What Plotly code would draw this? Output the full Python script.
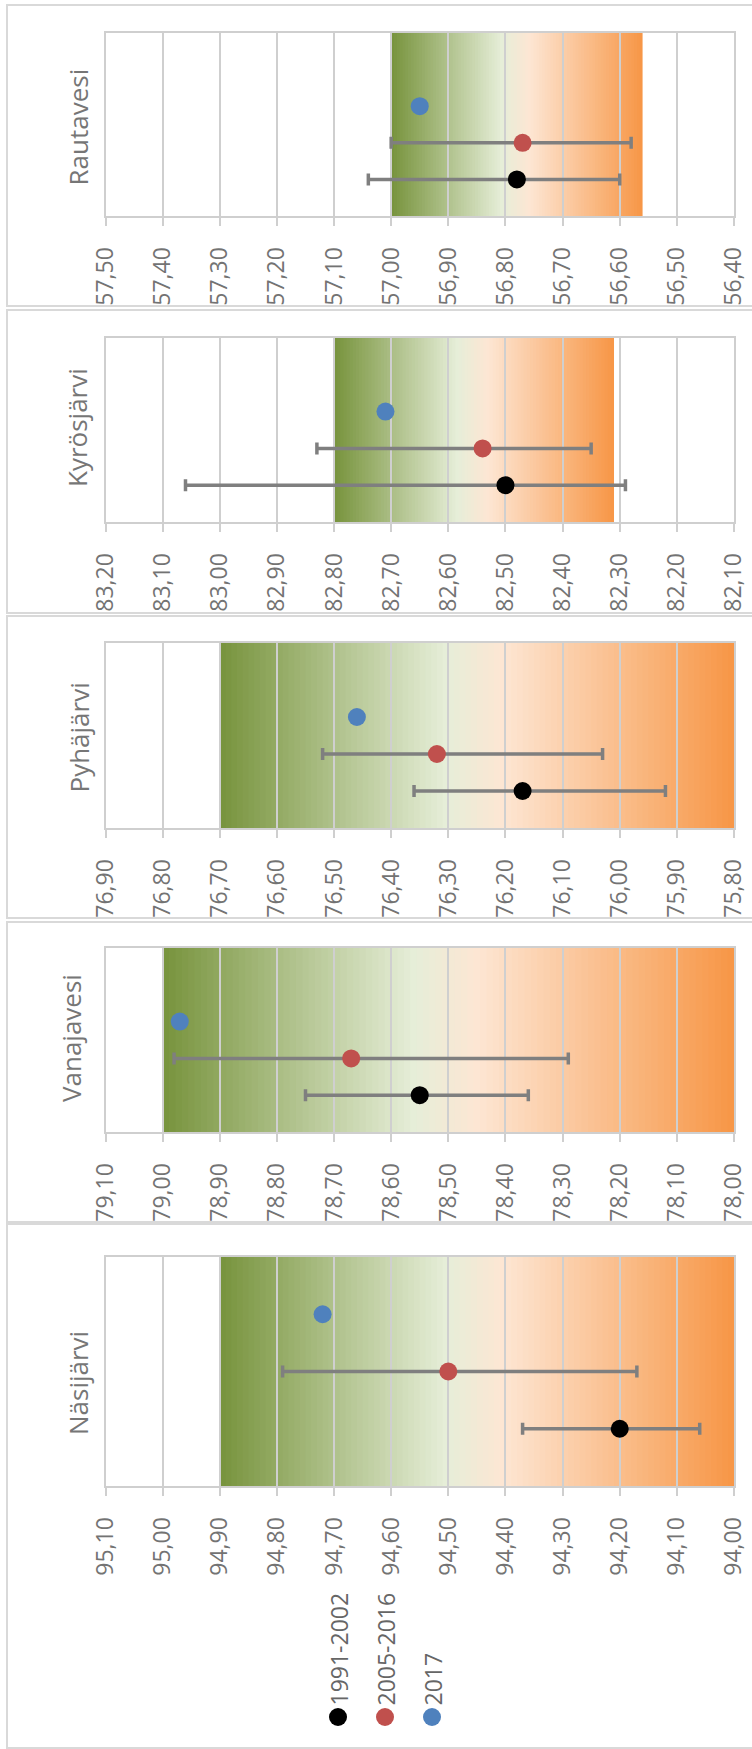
import plotly.graph_objects as go

# ---------------- data ----------------
lakes = ["Rautavesi", "Kyrösjärvi", "Pyhäjärvi", "Vanajavesi", "Näsijärvi"]
axis_max = [57.50, 83.20, 76.90, 79.10, 95.10]
axis_min = [56.40, 82.10, 75.80, 78.00, 94.00]
band_hi = [57.00, 82.80, 76.70, 79.00, 94.90]
band_lo = [56.56, 82.31, 75.80, 78.00, 94.00]

v_1991 = [56.78, 82.50, 76.17, 78.55, 94.20]
lo_1991 = [56.60, 82.29, 75.92, 78.36, 94.06]
hi_1991 = [57.04, 83.06, 76.36, 78.75, 94.37]

v_2005 = [56.77, 82.54, 76.32, 78.67, 94.50]
lo_2005 = [56.58, 82.35, 76.03, 78.29, 94.17]
hi_2005 = [57.00, 82.83, 76.52, 78.98, 94.79]

v_2017 = [56.95, 82.71, 76.46, 78.97, 94.72]

series_names = ["1991-2002", "2005-2016", "2017"]
series_colors = ["#000000", "#c0504d", "#4f81bd"]
series_rows = [1, 2, 3]
y_top = [5, 5, 5, 5, 4]

# ---------------- layout geometry (pixels) ----------------
W, H = 752, 1749
plot_top = [33, 338, 643, 948, 1257]
plot_bot = [216, 522, 828, 1132, 1486]
plot_left, plot_right = 105.5, 734
frame_top = [5, 310, 616, 922, 1224]
frame_bot = [306, 613, 918, 1222, 1748]
name_x = [78, 77, 78, 71, 78]
name_y = [127.5, 428, 737.5, 1038, 1383]

TICK_COL = "#737373"
GRID_COL = "#cfcfcf"
FONT = "Open Sans"

# gradient stops (fraction from band_hi side)
stops = [(0.0, (0x77, 0x93, 0x3C)), (0.44, (0xE6, 0xEE, 0xD8)),
         (0.55, (0xFD, 0xE6, 0xD3)), (1.0, (0xF7, 0x96, 0x46))]


def grad_color(t):
    for (t0, c0), (t1, c1) in zip(stops[:-1], stops[1:]):
        if t <= t1:
            f = (t - t0) / (t1 - t0) if t1 > t0 else 0
            return "rgb(%d,%d,%d)" % tuple(round(a + (b - a) * f) for a, b in zip(c0, c1))
    return "rgb(%d,%d,%d)" % stops[-1][1]


def px_y(p):
    return 1 - p / H


fig = go.Figure()
shapes = []
annotations = []
layout_axes = {}

for i, lake in enumerate(lakes):
    n = i + 1
    xa = "x" if n == 1 else f"x{n}"
    ya = "y" if n == 1 else f"y{n}"
    xkey = "xaxis" if n == 1 else f"xaxis{n}"
    ykey = "yaxis" if n == 1 else f"yaxis{n}"

    ticks = [round(axis_max[i] - 0.1 * k, 2) for k in range(int(round((axis_max[i] - axis_min[i]) / 0.1)) + 1)]
    layout_axes[xkey] = dict(
        domain=[plot_left / W, plot_right / W], anchor=ya,
        range=[axis_max[i], axis_min[i]],
        tickvals=ticks, tickformat=".2f", tickangle=-90,
        ticks="outside", ticklen=8, tickwidth=2, tickcolor=GRID_COL,
        ticklabelstandoff=12, automargin=False,
        tickfont=dict(family=FONT, size=23, color=TICK_COL),
        showgrid=True, gridcolor=GRID_COL, gridwidth=2,
        showline=True, linecolor=GRID_COL, linewidth=2, mirror=True,
        zeroline=False, fixedrange=True,
    )
    layout_axes[ykey] = dict(
        domain=[px_y(plot_bot[i]), px_y(plot_top[i])], anchor=xa,
        range=[0, y_top[i]], showticklabels=False, ticks="",
        showgrid=False, zeroline=False, automargin=False,
        showline=True, linecolor=GRID_COL, linewidth=2, mirror=True,
        fixedrange=True,
    )

    # gradient band drawn as thin rectangles below the grid
    nstep = 90
    span = band_hi[i] - band_lo[i]
    for k in range(nstep):
        t0 = k / nstep
        t1 = (k + 1) / nstep
        shapes.append(dict(
            type="rect", xref=xa, yref=f"{ya} domain", layer="below",
            x0=band_hi[i] - span * t0, x1=band_hi[i] - span * min(1.0, t1 + 0.004),
            y0=0, y1=1, line=dict(width=0),
            fillcolor=grad_color((t0 + t1) / 2),
        ))

    vals = [v_1991[i], v_2005[i], v_2017[i]]
    los = [lo_1991[i], lo_2005[i], None]
    his = [hi_1991[i], hi_2005[i], None]
    for s in range(3):
        err = None
        if los[s] is not None:
            err = dict(type="data", symmetric=False,
                       array=[his[s] - vals[s]], arrayminus=[vals[s] - los[s]],
                       color="#7f7f7f", thickness=3.5, width=6)
        fig.add_trace(go.Scatter(
            x=[vals[s]], y=[series_rows[s]], xaxis=xa, yaxis=ya,
            mode="markers", name=series_names[s], showlegend=False,
            marker=dict(size=18, color=series_colors[s]),
            error_x=err,
        ))

    # panel frame
    shapes.append(dict(type="rect", xref="paper", yref="paper", layer="below",
                       x0=7 / W, x1=1.02, y0=px_y(frame_bot[i]), y1=px_y(frame_top[i]),
                       line=dict(color="#d9d9d9", width=2), fillcolor="rgba(0,0,0,0)"))

    annotations.append(dict(
        text=lake, xref="paper", yref="paper", x=name_x[i] / W, y=px_y(name_y[i]),
        xanchor="center", yanchor="middle", showarrow=False, textangle=-90,
        font=dict(family=FONT, size=26, color="#767676"),
    ))

# legend (rotated, drawn manually)
leg_x = [338, 385, 432]
leg_dot_y = 1717
for s in range(3):
    shapes.append(dict(type="circle", xref="paper", yref="paper",
                       xsizemode="pixel", ysizemode="pixel",
                       xanchor=leg_x[s] / W, yanchor=px_y(leg_dot_y),
                       x0=-9, x1=9, y0=-9, y1=9,
                       fillcolor=series_colors[s], line=dict(width=0)))
    annotations.append(dict(
        text=series_names[s], xref="paper", yref="paper",
        x=leg_x[s] / W, y=px_y(leg_dot_y - 9),
        xanchor="center", yanchor="bottom", showarrow=False, textangle=-90,
        font=dict(family=FONT, size=23, color="#666666"),
    ))

fig.update_layout(
    width=W, height=H, margin=dict(l=0, r=0, t=0, b=0, autoexpand=False),
    paper_bgcolor="white", plot_bgcolor="white",
    separators=", ", showlegend=False, hovermode=False,
    shapes=shapes, annotations=annotations,
    **layout_axes,
)

fig.write_html("out.html", config={"displayModeBar": False},
               post_script="document.body.style.margin='0';document.body.style.overflow='hidden';")
